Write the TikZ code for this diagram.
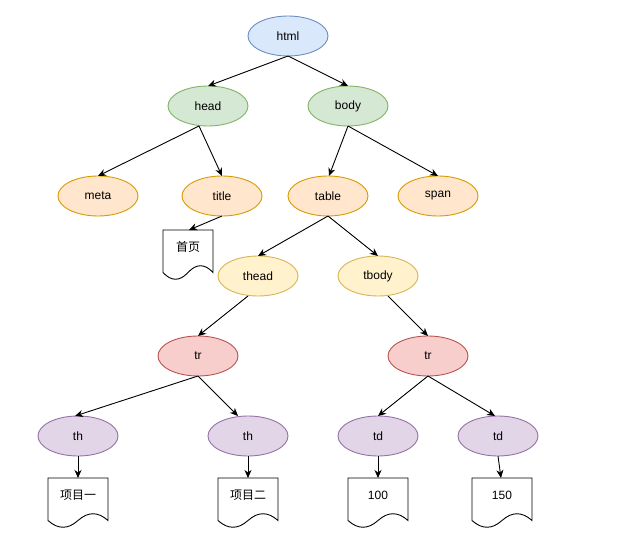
\documentclass[tikz,border=0pt]{standalone}
\usepackage{fontspec}
\setmainfont{Liberation Sans}
\newfontfamily\cjk{Noto Sans CJK SC}
\usetikzlibrary{shapes.geometric,arrows.meta}
\definecolor{bluef}{HTML}{DAE8FC}\definecolor{blued}{HTML}{6C8EBF}
\definecolor{greenf}{HTML}{D5E8D4}\definecolor{greend}{HTML}{82B366}
\definecolor{orangef}{HTML}{FFE6CC}\definecolor{oranged}{HTML}{D79B00}
\definecolor{yellowf}{HTML}{FFF2CC}\definecolor{yellowd}{HTML}{D6B656}
\definecolor{redf}{HTML}{F8CECC}\definecolor{redd}{HTML}{B85450}
\definecolor{purplef}{HTML}{E1D5E7}\definecolor{purpled}{HTML}{9673A6}
\tikzset{
  el/.style={ellipse, draw, line width=0.9pt, minimum width=80pt, minimum height=40pt, inner sep=0pt, outer sep=0pt, font=\fontsize{12}{14}\selectfont},
  elblue/.style={el, fill=bluef, draw=blued},
  elgreen/.style={el, fill=greenf, draw=greend},
  elorange/.style={el, fill=orangef, draw=oranged},
  elyellow/.style={el, fill=yellowf, draw=yellowd},
  elred/.style={el, fill=redf, draw=redd},
  elpurple/.style={el, fill=purplef, draw=purpled},
  docbox/.style={rectangle, minimum height=50pt, inner sep=0pt, outer sep=0pt},
  docline/.style={draw=black, line width=0.9pt, fill=white},
  conn/.style={draw=black, line width=0.9pt, -{Stealth[length=8pt,width=7pt,inset=2.5pt]}},
}
\newcommand\docshape[5]{%
  \draw[docline] (#2,#3) -- ({#2+#4},#3) -- ({#2+#4},{#3+42.5})
    .. controls ({#2+#4*5/6},{#3+33.5}) and ({#2+#4*2/3},{#3+33.5}) .. ({#2+#4/2},{#3+42.5})
    .. controls ({#2+#4/3},{#3+51.5}) and ({#2+#4/6},{#3+51.5}) .. (#2,{#3+42.5}) -- cycle;
  \node[docbox, minimum width=#4pt, label={[anchor=center, yshift=-17pt, font=\fontsize{12}{14}\selectfont]north:#5}] (#1) at ({#2+#4/2},{#3+25}) {};%
}
\begin{document}
\begin{tikzpicture}[x=1pt,y=-1pt]
\useasboundingbox[fill=white] (0,0) rectangle (626,537);
\node[elblue] (html) at (288,36) {html};
\node[elgreen] (head) at (208,106) {head};
\node[elgreen] (body) at (348,106) {body};
\node[elorange] (meta) at (98,196) {meta};
\node[elorange] (title) at (222,196) {title};
\node[elorange] (table) at (328,196) {table};
\node[elorange] (span) at (438,196) {span};
\node[elyellow] (thead) at (258,276) {thead};
\node[elyellow] (tbody) at (378,276) {tbody};
\node[elred] (trL) at (198,356) {tr};
\node[elred] (trR) at (428,356) {tr};
\node[elpurple] (th1) at (78,436) {th};
\node[elpurple] (th2) at (248,436) {th};
\node[elpurple] (td1) at (378,436) {td};
\node[elpurple] (td2) at (498,436) {td};
\docshape{d0}{163}{230}{50}{{\cjk 首页}}
\docshape{d1}{48}{478}{60}{{\cjk 项目一}}
\docshape{d2}{218}{478}{60}{{\cjk 项目二}}
\docshape{d3}{348}{478}{60}{100}
\docshape{d4}{472}{478}{60}{150}
\draw[conn] (html.south) -- (head.north);
\draw[conn] (html.south) -- (body.north);
\draw[conn] ([xshift=-9pt]head.south) -- (meta.north);
\draw[conn] ([xshift=-9pt]head.south) -- (title.north);
\draw[conn] (body.south) -- ([xshift=1pt]table.north);
\draw[conn] (body.south) -- (span.north);
\draw[conn] (title.south) -- ([xshift=1pt]d0.north);
\draw[conn] (table.south) -- (thead.north);
\draw[conn] (table.south) -- (tbody.north);
\draw[conn] ([xshift=-10pt]thead.south) -- (trL.north);
\draw[conn] ([xshift=10pt]tbody.south) -- (trR.north);
\draw[conn] (trL.south) -- ([xshift=-3pt]th1.north);
\draw[conn] (trL.south) -- ([xshift=-10pt]th2.north);
\draw[conn] (trR.south) -- (td1.north);
\draw[conn] (trR.south) -- ([xshift=-3pt]td2.north);
\draw[conn] (th1.south) -- (d1.north);
\draw[conn] (th2.south) -- (d2.north);
\draw[conn] (td1.south) -- (d3.north);
\draw[conn] (td2.south) -- ([xshift=-1pt]d4.north);
\end{tikzpicture}
\end{document}
